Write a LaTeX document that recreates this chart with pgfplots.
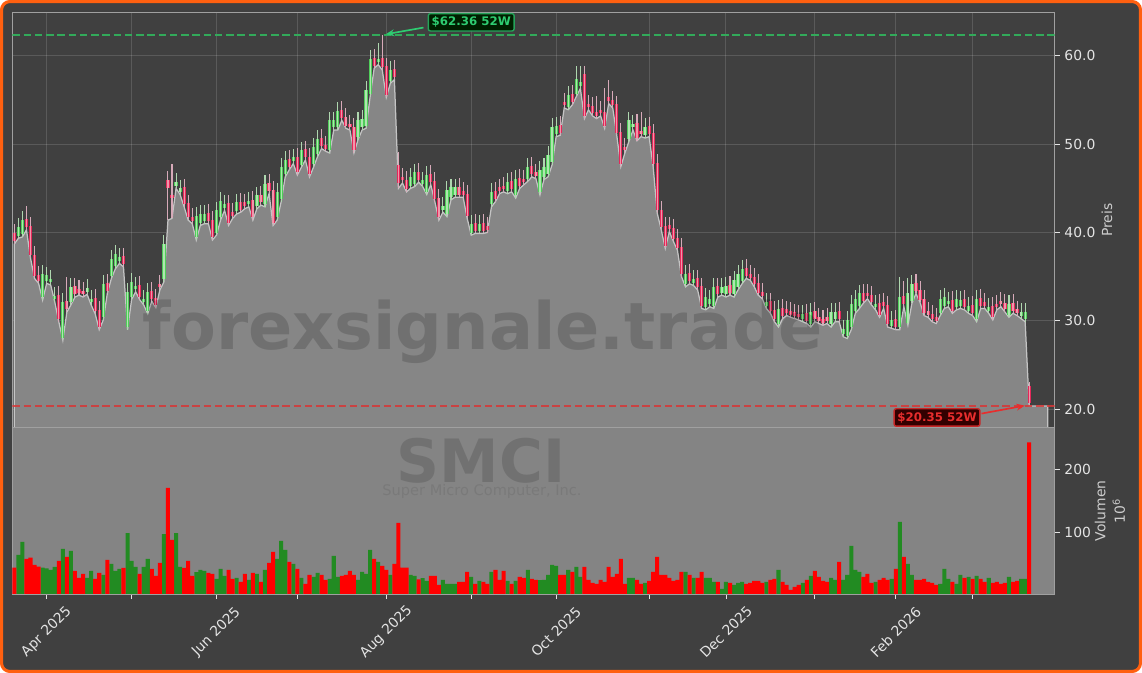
\documentclass[border=0pt]{standalone}
\usepackage{fontspec}
\setmainfont{DejaVu Sans}
\setsansfont{DejaVu Sans}
\usepackage{pgfplots}
\pgfplotsset{compat=1.18}
\usepackage{pgfplotstable}
\usetikzlibrary{arrows.meta}

\definecolor{figbg}{RGB}{64,64,64}
\definecolor{frame}{RGB}{255,96,16}
\definecolor{areafill}{RGB}{134,134,134}
\definecolor{arealine}{RGB}{196,196,196}
\definecolor{volbg}{RGB}{132,132,132}
\definecolor{volup}{RGB}{34,139,34}
\definecolor{voldn}{RGB}{255,0,0}
\definecolor{upedge}{RGB}{80,205,90}
\definecolor{upfill}{RGB}{175,230,175}
\definecolor{dnedge}{RGB}{228,40,90}
\definecolor{dnfill}{RGB}{240,150,170}
\definecolor{upwick}{RGB}{175,215,175}
\definecolor{dnwick}{RGB}{215,170,185}
\definecolor{hiline}{RGB}{50,170,90}
\definecolor{loline}{RGB}{215,55,55}
\definecolor{hitext}{RGB}{46,204,113}
\definecolor{lotext}{RGB}{232,45,45}
\definecolor{ticktext}{RGB}{228,228,228}
\definecolor{labeltext}{RGB}{205,205,205}
\definecolor{spine}{RGB}{160,160,160}

% i = trading day, o h l c = price, v = volume (millions), d = 1 up / 0 down
\pgfplotstableread{
i o h l c v d
0 40.0 41.0 38.7 39.0 44.8 0
1 39.65 41.6 39.35 40.6 64.8 1
2 39.8 42.4 39.5 41.4 85.3 1
3 41.5 43.0 40.3 40.6 58.5 0
4 40.7 41.7 37.1 37.4 60.6 0
5 37.5 38.5 34.8 35.1 49.1 0
6 35.2 36.2 34.25 34.55 46.5 0
7 32.65 36.35 32.35 35.35 44.8 1
8 34.55 36.15 34.25 35.15 43.8 1
9 34.35 35.75 34.05 34.75 41.2 1
10 32.45 33.85 32.15 32.85 45.9 1
11 32.95 33.95 29.9 30.2 55.4 0
12 28.1 33.1 27.8 32.1 74.3 1
13 32.2 35.0 31.0 31.3 61.7 0
14 32.1 34.8 31.8 33.8 71.2 1
15 33.9 34.9 32.7 33.0 39.6 0
16 33.6 34.6 32.9 33.2 28.6 0
17 33.4 34.4 32.7 33.0 34.9 0
18 33.3 34.7 33.0 33.7 28.6 1
19 32.1 33.5 31.8 32.5 39.6 1
20 32.6 33.6 30.8 31.1 27.0 0
21 31.2 32.2 29.0 29.3 36.5 0
22 30.4 35.2 30.1 34.2 33.3 1
23 34.3 35.3 33.1 33.4 57.0 0
24 35.1 38.0 34.8 37.0 50.7 1
25 36.2 38.6 35.9 37.6 39.6 1
26 36.8 38.2 36.5 37.2 42.8 1
27 37.3 38.3 36.1 36.4 44.3 0
28 29.3 34.3 29.0 33.3 99.0 1
29 32.7 35.4 32.4 34.4 55.4 1
30 33.6 35.0 33.3 34.0 45.9 1
31 34.1 35.1 32.4 32.7 34.9 0
32 32.1 33.5 31.8 32.5 45.9 1
33 31.1 34.3 30.8 33.3 58.5 1
34 33.4 34.4 32.2 32.5 42.8 0
35 32.6 33.6 31.5 31.8 31.8 0
36 34.2 35.2 33.5 33.8 52.3 0
37 34.7 39.7 34.4 38.7 97.4 1
38 46.0 47.0 41.4 45.0 170.5 0
39 44.3 47.8 41.6 43.9 88.4 0
40 45.3 46.7 45.0 45.7 99.0 1
41 44.6 46.0 44.3 45.0 45.9 1
42 45.1 46.1 42.9 43.2 44.3 0
43 43.3 44.3 41.4 41.7 55.4 0
44 41.8 42.8 41.0 41.3 31.8 0
45 39.45 42.9 39.15 41.9 37.6 1
46 41.1 43.1 40.8 42.1 41.2 1
47 41.3 43.1 41.0 42.1 39.6 1
48 42.2 43.2 41.0 41.3 36.5 0
49 41.4 42.4 39.15 39.45 34.9 0
50 40.0 43.5 39.7 42.5 27.0 1
51 41.7 44.6 41.4 43.6 42.8 1
52 42.8 44.2 42.5 43.2 31.8 1
53 43.3 44.3 40.8 41.1 41.2 0
54 42.3 43.3 41.6 41.9 27.0 0
55 42.4 44.4 42.1 43.4 28.6 1
56 43.5 44.5 42.3 42.6 22.3 0
57 43.4 44.4 42.7 43.0 34.9 0
58 43.2 44.6 42.9 43.6 25.4 1
59 43.7 44.7 41.4 41.7 36.5 0
60 43.0 45.2 42.7 44.2 34.9 1
61 44.3 45.3 43.1 43.4 22.3 0
62 43.2 46.5 42.9 45.5 41.2 1
63 45.6 46.6 44.4 44.7 52.3 0
64 44.8 45.8 40.8 41.1 69.6 0
65 41.7 45.6 41.4 44.6 58.5 1
66 43.8 48.4 43.5 47.4 86.9 1
67 46.6 49.2 46.3 48.2 72.7 1
68 48.3 49.3 47.1 47.4 53.9 0
69 48.1 49.5 47.8 48.5 50.7 1
70 48.6 49.6 46.5 46.8 42.8 0
71 47.7 50.3 47.4 49.3 28.6 1
72 49.4 50.4 48.2 48.5 19.2 0
73 48.6 49.6 46.3 46.6 33.3 0
74 47.7 50.7 47.4 49.7 30.2 1
75 48.9 51.6 48.6 50.6 36.5 1
76 50.7 51.7 49.5 49.8 33.3 0
77 49.9 50.9 49.2 49.5 25.4 0
78 49.3 53.7 49.0 52.7 27.0 1
79 51.9 53.7 51.6 52.7 63.3 1
80 51.9 54.8 51.6 53.8 30.2 1
81 53.9 54.9 52.7 53.0 31.8 0
82 53.1 54.1 51.8 52.1 33.3 0
83 52.3 53.3 51.6 51.9 39.6 0
84 52.0 53.0 49.0 49.3 33.3 0
85 50.8 53.7 50.5 52.7 25.4 1
86 51.9 53.9 51.6 52.9 38.1 1
87 52.1 57.1 51.8 56.1 34.9 1
88 55.7 60.7 55.4 59.7 72.7 1
89 59.8 60.8 58.6 58.9 58.5 0
90 59.3 61.5 59.0 59.7 53.9 1
91 59.8 62.36 58.4 58.7 47.5 0
92 58.8 59.8 55.3 55.6 41.2 0
93 57.2 59.4 56.9 58.4 33.3 1
94 58.5 59.5 57.3 57.6 50.7 0
95 47.6 49.1 45.0 45.6 115.3 0
96 46.3 47.3 45.6 45.9 44.8 0
97 46.0 47.0 44.6 44.9 44.8 0
98 45.3 47.3 45.0 46.3 33.3 1
99 45.5 47.8 45.2 46.8 31.8 1
100 46.9 47.9 45.7 46.0 26.5 0
101 45.5 46.9 45.2 45.9 28.1 1
102 44.6 47.5 44.3 46.5 23.9 1
103 46.6 47.6 45.4 45.7 31.8 0
104 45.8 46.8 43.5 43.8 31.8 0
105 43.9 44.9 41.4 41.7 17.6 0
106 42.6 44.0 42.3 43.0 25.4 1
107 42.1 45.8 41.8 44.8 19.2 1
108 44.0 46.1 43.7 45.1 19.2 1
109 44.3 46.1 44.0 45.1 19.2 1
110 45.2 46.2 44.0 44.3 22.3 0
111 44.7 45.7 44.0 44.3 22.3 0
112 44.4 45.4 41.6 41.9 38.1 0
113 40.0 42.0 39.7 41.0 30.2 1
114 41.1 42.1 39.9 40.2 19.2 0
115 40.2 42.0 39.9 41.0 23.9 1
116 41.1 42.1 39.9 40.2 22.3 0
117 40.7 41.7 40.0 40.3 19.2 0
118 43.2 45.6 42.9 44.6 38.1 1
119 44.7 45.7 43.5 43.8 41.2 0
120 45.1 46.1 44.4 44.7 25.4 0
121 45.3 46.3 44.6 44.9 39.6 0
122 44.7 46.7 44.4 45.7 23.9 1
123 45.8 46.8 44.6 44.9 19.2 0
124 44.2 47.1 43.9 46.1 23.9 1
125 46.2 47.2 45.0 45.3 30.2 0
126 46.1 47.1 45.4 45.7 28.6 0
127 46.1 48.4 45.8 47.4 41.2 1
128 47.5 48.5 46.3 46.6 27.0 0
129 46.8 47.8 46.1 46.4 25.4 0
130 44.55 48.1 44.25 47.1 25.0 1
131 46.3 48.4 46.0 47.4 25.4 1
132 46.6 49.75 46.3 48.75 33.3 1
133 47.95 52.95 47.65 51.95 49.1 1
134 51.15 53.1 50.85 52.1 47.5 1
135 52.2 53.2 51.0 51.3 33.3 0
136 54.8 55.8 54.1 54.4 33.3 0
137 54.2 56.55 53.9 55.55 41.2 1
138 55.65 56.65 54.45 54.75 38.1 0
139 55.7 58.8 55.4 57.4 45.9 1
140 56.6 58.8 56.3 57.0 30.2 1
141 58.0 58.8 52.9 53.2 45.9 0
142 54.6 55.6 53.9 54.2 25.4 0
143 54.3 55.3 53.2 53.5 20.7 0
144 53.6 55.5 52.9 53.2 19.2 0
145 53.9 54.9 53.2 53.5 25.4 0
146 53.6 56.4 51.8 52.1 22.3 0
147 55.3 57.3 54.6 54.9 45.9 0
148 55.0 56.0 54.1 54.4 30.2 0
149 54.5 55.5 51.0 51.3 34.9 0
150 51.4 52.4 47.45 47.75 58.5 0
151 49.7 50.7 49.0 49.3 19.2 0
152 50.6 53.7 50.3 52.7 28.6 1
153 51.9 53.3 51.6 52.3 28.6 1
154 52.4 53.4 50.4 50.7 25.4 0
155 51.55 53.7 50.85 51.15 19.2 0
156 51.0 52.95 50.7 51.95 20.7 1
157 52.05 53.05 50.85 51.15 23.9 0
158 51.25 52.25 47.45 47.75 38.1 0
159 47.85 48.85 42.2 42.5 61.7 0
160 42.6 43.6 40.3 40.6 33.3 0
161 40.7 41.7 38.2 38.5 33.3 0
162 40.8 41.8 40.1 40.4 28.6 0
163 40.5 41.5 39.0 39.3 23.9 0
164 39.4 40.4 38.0 38.3 25.4 0
165 38.4 39.4 35.0 35.3 38.1 0
166 34.15 36.3 33.85 35.3 38.1 1
167 35.4 36.4 34.2 34.5 33.3 0
168 34.3 35.7 34.0 34.7 28.6 1
169 34.8 35.8 33.5 33.8 28.6 0
170 33.9 34.9 31.4 31.7 38.1 0
171 31.55 33.7 31.25 32.7 28.6 1
172 31.9 33.5 31.6 32.5 28.6 1
173 31.7 34.8 31.4 33.8 22.3 1
174 33.9 34.9 32.7 33.0 22.3 0
175 33.2 34.8 32.9 33.8 11.2 1
176 33.0 35.0 32.7 34.0 22.3 1
177 34.1 35.1 32.9 33.2 20.7 0
178 33.0 35.6 32.7 34.6 17.6 1
179 33.8 36.3 33.5 35.3 20.7 1
180 34.5 36.9 34.2 35.9 22.3 1
181 36.0 37.0 34.8 35.1 19.2 0
182 35.3 36.3 34.6 34.9 20.7 0
183 35.0 36.0 33.85 34.15 23.9 0
184 34.25 35.25 32.9 33.2 23.9 0
185 33.3 34.3 32.5 32.8 20.7 0
186 31.7 33.1 31.4 32.1 22.3 1
187 32.2 33.2 30.85 31.15 25.4 0
188 31.25 32.25 29.9 30.2 27.0 0
189 29.6 32.35 29.3 31.35 41.2 1
190 31.45 32.45 30.25 30.55 22.3 0
191 31.3 32.3 30.6 30.9 17.6 0
192 31.1 32.1 30.4 30.7 9.7 0
193 30.95 31.95 30.25 30.55 14.4 0
194 30.8 31.8 30.1 30.4 17.6 0
195 30.2 31.8 29.9 30.8 20.7 1
196 30.9 31.9 29.7 30.0 25.4 0
197 29.6 32.0 29.3 31.0 31.8 1
198 31.1 32.1 29.9 30.2 39.6 0
199 30.4 31.4 29.7 30.0 30.2 0
200 30.2 31.2 29.5 29.8 23.9 0
201 30.4 31.4 29.7 30.0 22.3 0
202 29.6 32.0 29.3 31.0 28.6 1
203 30.2 32.0 29.9 31.0 25.4 1
204 31.1 32.1 29.9 30.2 53.9 0
205 28.5 30.1 28.2 29.1 25.4 1
206 28.3 31.1 28.0 30.1 33.3 1
207 29.3 32.95 29.0 31.95 79.0 1
208 31.15 33.5 30.85 32.5 41.2 1
209 31.7 34.1 31.4 33.1 38.1 1
210 33.2 34.2 32.0 32.3 30.2 0
211 33.2 34.2 32.5 32.8 34.9 0
212 32.9 33.9 31.8 32.1 20.7 0
213 31.55 32.95 31.25 31.95 22.3 1
214 32.05 33.05 30.4 30.7 25.4 0
215 32.1 33.1 31.4 31.7 28.6 0
216 31.8 32.8 29.3 29.6 25.4 0
217 29.45 31.1 29.15 30.1 27.0 1
218 30.2 31.2 29.0 29.3 42.8 0
219 29.3 35.0 29.0 32.7 116.9 1
220 32.8 34.5 31.6 31.9 61.7 0
221 29.8 34.8 29.5 33.1 50.7 1
222 32.3 35.2 32.0 34.2 33.3 1
223 34.3 35.3 33.1 33.4 25.4 0
224 33.5 34.5 32.1 32.4 25.4 0
225 32.5 33.5 30.6 30.9 27.0 0
226 31.1 32.1 30.4 30.7 22.3 0
227 30.8 31.8 29.9 30.2 20.7 0
228 30.4 31.4 29.7 30.0 17.6 0
229 30.9 33.5 30.6 32.5 19.2 1
230 31.7 33.7 31.4 32.7 42.8 1
231 31.9 33.3 31.6 32.3 27.0 1
232 32.4 33.4 30.85 31.15 22.3 0
233 31.55 33.5 31.25 32.5 19.2 1
234 31.7 33.35 31.4 32.35 33.3 1
235 32.45 33.45 31.25 31.55 28.6 0
236 31.15 32.7 30.85 31.7 30.2 1
237 31.8 32.8 30.6 30.9 27.0 0
238 30.2 33.5 29.9 32.5 31.8 1
239 32.6 33.6 31.4 31.7 27.0 0
240 32.1 33.1 31.4 31.7 22.3 0
241 31.15 32.55 30.85 31.55 28.6 1
242 31.65 32.65 30.1 30.4 20.7 0
243 31.95 32.95 31.25 31.55 22.3 0
244 32.3 33.3 31.6 31.9 19.2 0
245 32.0 33.0 31.0 31.3 20.7 0
246 30.7 32.95 30.4 31.95 30.2 1
247 32.05 33.05 30.85 31.15 22.3 0
248 31.3 32.3 30.6 30.9 23.9 0
249 30.55 32.0 30.25 31.0 27.0 1
250 30.2 32.0 29.9 31.0 27.0 1
251 22.6 23.1 20.35 20.65 242.0 0
255.6 20.35 20.35 20.35 20.35 0 2
}\ohlc

\pgfplotsset{
  panel/.style={
    scale only axis,
    width=750.5pt,
    xmin=-0.5, xmax=257.3,
    axis line style={draw=spine, line width=0.6pt},
    tick style={draw=ticktext, line width=0.6pt},
    tick align=outside,
    major tick length=3.5pt,
    xtick={8,29,50,70,92,113,134,157,176,198,218,237},
    ytick pos=right,
    yticklabel pos=right,
    tick label style={font=\fontsize{10}{12}\selectfont, color=ticktext},
    /pgf/number format/assume math mode=true,
  },
  candle/.style n args={3}{draw=none, mark=none, forget plot,
    restrict expr to domain={\thisrow{d}}{#1:#1},
    error bars/.cd, y dir=both, y explicit, error mark=none,
    error bar style={draw=#2, line width=#3}},
}

\begin{document}
\begin{tikzpicture}
\useasboundingbox (0,0) rectangle (822.24pt,484.56pt);
\fill[white] (0,0) rectangle (822.24pt,484.56pt);
\filldraw[fill=figbg, draw=frame, line width=2.2pt, rounded corners=6pt]
  (1.1pt,1.1pt) rectangle (821.14pt,483.46pt);

% price panel
\begin{axis}[panel,
  at={(8.86pt,176.6pt)}, anchor=south west,
  height=298.9pt,
  ymin=17.9, ymax=64.9,
  ytick={20,30,40,50,60},
  yticklabel style={/pgf/number format/.cd, fixed, fixed zerofill, precision=1},
  xticklabels={},
  xtick style={draw=none},
  grid=major,
  grid style={draw=white, opacity=0.14, line width=0.7pt},
  every axis y label/.style={at={(rel axis cs:1,0.5)}, xshift=37.7pt, rotate=90,
    anchor=center, font=\fontsize{10}{12}\selectfont, color=labeltext},
  ylabel={Preis},
]
\addplot[fill=areafill, draw=arealine, line width=0.9pt] table[x=i, y=l] {\ohlc} \closedcycle;

% wicks
\addplot[candle={1}{upwick}{0.75pt}]
  table[x=i, y expr={(\thisrow{h}+\thisrow{l})/2}, y error expr={(\thisrow{h}-\thisrow{l})/2}] {\ohlc};
\addplot[candle={0}{dnwick}{0.75pt}]
  table[x=i, y expr={(\thisrow{h}+\thisrow{l})/2}, y error expr={(\thisrow{h}-\thisrow{l})/2}] {\ohlc};

% bodies: edge then lighter core
\addplot[candle={1}{upedge}{2.3pt}]
  table[x=i, y expr={(\thisrow{o}+\thisrow{c})/2}, y error expr={abs(\thisrow{c}-\thisrow{o})/2}] {\ohlc};
\addplot[candle={1}{upfill}{0.9pt}]
  table[x=i, y expr={(\thisrow{o}+\thisrow{c})/2}, y error expr={abs(\thisrow{c}-\thisrow{o})/2}] {\ohlc};
\addplot[candle={0}{dnedge}{2.3pt}]
  table[x=i, y expr={(\thisrow{o}+\thisrow{c})/2}, y error expr={abs(\thisrow{c}-\thisrow{o})/2}] {\ohlc};
\addplot[candle={0}{dnfill}{0.9pt}]
  table[x=i, y expr={(\thisrow{o}+\thisrow{c})/2}, y error expr={abs(\thisrow{c}-\thisrow{o})/2}] {\ohlc};

% 52 week high / low
\addplot[hiline, line width=1.5pt, dash pattern=on 5.5pt off 2.6pt] coordinates {(-0.5,62.36) (257.3,62.36)};
\addplot[loline, line width=1.5pt, dash pattern=on 5.5pt off 2.6pt, opacity=0.85] coordinates {(-0.5,20.35) (257.3,20.35)};

\draw[hitext, line width=1.2pt, -{Stealth[length=6pt, width=5pt]}] (axis cs:101.2,63.2) -- (axis cs:91.9,62.45);
\node[draw=hitext!80!black, fill=black!88!green, line width=1pt, rounded corners=1.5pt,
  text=hitext, font=\bfseries\fontsize{8.5}{10}\selectfont, inner sep=2.4pt]
  at (axis cs:113.0,63.8) {\$62.36 52W};
\draw[lotext, line width=1.2pt, -{Stealth[length=6pt, width=5pt]}] (axis cs:239.2,19.5) -- (axis cs:249.9,20.4);
\node[draw=lotext!85!black, fill=black!80!red, line width=1pt, rounded corners=1.5pt,
  text=lotext, font=\bfseries\fontsize{8.5}{10}\selectfont, inner sep=2.4pt]
  at (axis cs:228.2,19.06) {\$20.35 52W};
\end{axis}

% volume panel
\begin{axis}[panel,
  at={(8.86pt,56.88pt)}, anchor=south west,
  height=119.7pt,
  ymin=3.3, ymax=265,
  ytick={100,200},
  xtick pos=bottom,
  axis background/.style={fill=volbg},
  ybar, bar width=1,
  xticklabels={Apr 2025,,Jun 2025,,Aug 2025,,Oct 2025,,Dec 2025,,Feb 2026,},
  xticklabel style={rotate=45, anchor=center, xshift=-16.8pt, yshift=-16.8pt},
  every axis y label/.style={at={(rel axis cs:1,0.5)}, xshift=39.8pt, rotate=90,
    anchor=center, align=center, font=\fontsize{10}{12}\selectfont, color=labeltext},
  ylabel={Volumen\\[2pt]10\textsuperscript{6}},
]
\addplot[bar shift=0pt, fill=volup, draw=none, restrict expr to domain={\thisrow{d}}{1:1}] table[x=i, y=v] {\ohlc};
\addplot[bar shift=0pt, fill=voldn, draw=none, restrict expr to domain={\thisrow{d}}{0:0}] table[x=i, y=v] {\ohlc};
\end{axis}

% watermarks
\begin{scope}[x=0.72pt, y=-0.72pt, yshift=484.56pt]
\node[anchor=base, text=black, opacity=0.16, font=\bfseries\fontsize{47}{47}\selectfont] at (483,350) {forexsignale.trade};
\node[anchor=base, text=black, opacity=0.14, font=\bfseries\fontsize{43}{43}\selectfont] at (481,483) {SMCI};
\node[anchor=base, text=black, opacity=0.08, font=\fontsize{10.5}{12}\selectfont] at (482,496) {Super Micro Computer, Inc.};
\end{scope}
\end{tikzpicture}
\end{document}
